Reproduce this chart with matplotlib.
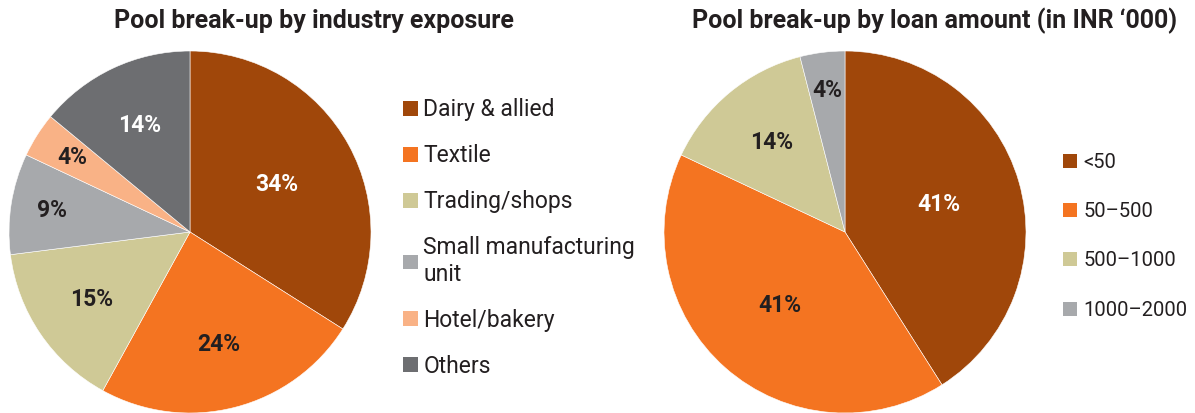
import numpy as np
import matplotlib
matplotlib.use('Agg')
import matplotlib.pyplot as plt

# industry exposure
ind_labels = ['Dairy & allied', 'Textile', 'Trading/shops', 'Small manufacturing\nunit', 'Hotel/bakery', 'Others']
ind_share = [34, 24, 15, 9, 4, 14]

# loan amount (INR '000)
amt_labels = ['<50', '50\u2013500', '500\u20131000', '1000\u20132000']
amt_share = [41, 41, 14, 4]

ind_colors = ['#A0470A', '#F47421', '#CFC996', '#A7A9AC', '#F9B286', '#6D6E71']
amt_colors = ['#A0470A', '#F47421', '#CFC996', '#A7A9AC']
dark = '#231F20'

plt.rcParams['font.family'] = ['Roboto', 'DejaVu Sans']

fig = plt.figure(figsize=(11.95, 4.13), dpi=100)
W, H = 1195, 413


def pie_axes(cx, cy, r):
    # cx, cy, r in pixels (cy measured from top)
    return fig.add_axes([(cx - r) / W, (H - cy - r) / H, 2 * r / W, 2 * r / H])


def draw_pie(ax, vals, colors, dists, txtcols):
    wedges, _ = ax.pie(vals, colors=colors, startangle=90, counterclock=False,
                       wedgeprops=dict(edgecolor='white', linewidth=0.4))
    ax.set_xlim(-1, 1)
    ax.set_ylim(-1, 1)
    ax.set_aspect('equal')
    for w, v, d, c in zip(wedges, vals, dists, txtcols):
        ang = np.deg2rad((w.theta1 + w.theta2) / 2)
        ax.text(d * np.cos(ang), d * np.sin(ang), f'{v}%', ha='center', va='center',
                fontsize=16.5, fontweight='bold', color=c)
    return wedges


ax1 = pie_axes(190, 232, 181)
w1 = draw_pie(ax1, ind_share, ind_colors, [0.55, 0.64, 0.66, 0.77, 0.77, 0.65],
              ['white', dark, dark, dark, dark, 'white'])
ax2 = pie_axes(845, 232, 181)
w2 = draw_pie(ax2, amt_share, amt_colors, [0.54, 0.54, 0.64, 0.79],
              ['white', dark, dark, dark])

fig.text(314 / W, 1 - 21 / H, 'Pool break-up by industry exposure', ha='center', va='center',
         fontsize=18, fontweight='bold', color=dark)
fig.text(935 / W, 1 - 21 / H, 'Pool break-up by loan amount (in INR \u2018000)', ha='center', va='center',
         fontsize=18, fontweight='bold', color=dark)

leg1 = fig.legend(w1, ind_labels, loc='upper left', bbox_to_anchor=(392 / W, 1 - 87 / H),
                  frameon=False, fontsize=16.5, handlelength=0.62, handleheight=0.62,
                  handletextpad=0.25, labelspacing=1.0, labelcolor=dark, borderpad=0)
leg2 = fig.legend(w2, amt_labels, loc='upper left', bbox_to_anchor=(1053 / W, 1 - 143 / H),
                  frameon=False, fontsize=14.5, handlelength=0.7, handleheight=0.7,
                  handletextpad=0.3, labelspacing=1.5, labelcolor=dark, borderpad=0)
for leg in (leg1, leg2):
    for h in leg.legend_handles:
        h.set_edgecolor('none')

fig.savefig('out.png', dpi=100)
